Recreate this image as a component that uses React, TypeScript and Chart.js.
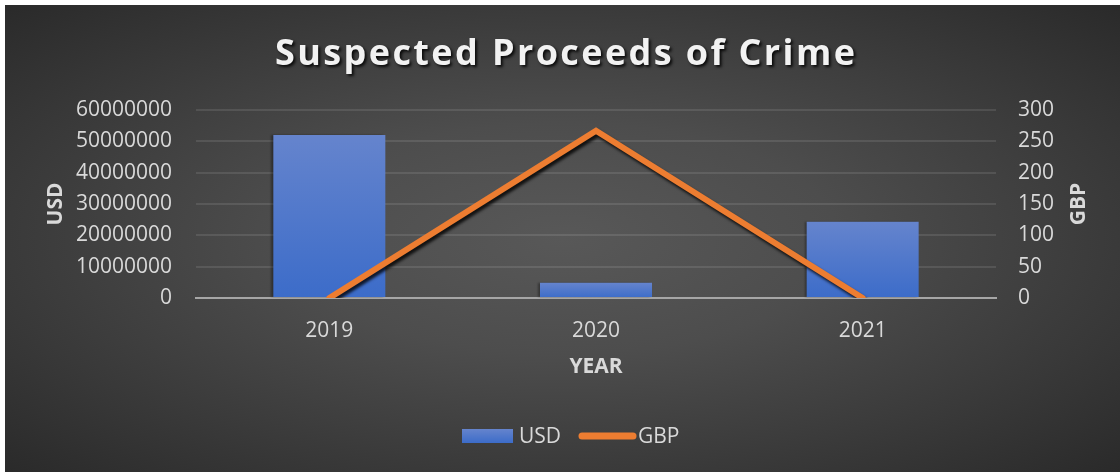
import React, { useEffect, useRef } from "react";
import { Chart, registerables } from "chart.js";

Chart.register(...registerables);

const TITLE = "Suspected Proceeds of Crime";
const categories = ["2019", "2020", "2021"];
const usdValues = [52000000, 4850000, 24300000];
const gbpValues = [0, 267, 0];
const usdTickLabels = ["0", "10000000", "20000000", "30000000", "40000000", "50000000", "60000000"];
const gbpTickLabels = ["0", "50", "100", "150", "200", "250", "300"];
const seriesNames = ["USD", "GBP"];
const axisTitles = { x: "YEAR", y: "USD", y1: "GBP" };

const W = 1115;
const H = 467;
const FONT = "'Open Sans', 'DejaVu Sans', sans-serif";
const TEXT = "#d9d9d9";
const ORANGE = "#ed7d31";

function blueGradient(ctx: CanvasRenderingContext2D, y0: number, y1: number) {
  const g = ctx.createLinearGradient(0, y0, 0, y1);
  g.addColorStop(0, "#6584cd");
  g.addColorStop(1, "#3c6cc9");
  return g;
}

const decorPlugin = {
  id: "decor",
  beforeDatasetDraw(chart: any, args: any) {
    const ctx = chart.ctx;
    ctx.save();
    if (args.meta.type === "line") {
      ctx.shadowColor = "rgba(0,0,0,0.8)";
      ctx.shadowOffsetX = 2;
      ctx.shadowOffsetY = 3;
      ctx.shadowBlur = 3;
    } else {
      ctx.shadowColor = "rgba(0,0,0,0.35)";
      ctx.shadowOffsetX = -2;
      ctx.shadowOffsetY = 0;
      ctx.shadowBlur = 2;
    }
  },
  afterDatasetDraw(chart: any) {
    chart.ctx.restore();
  },
  afterDraw(chart: any) {
    const ctx: CanvasRenderingContext2D = chart.ctx;
    const area = chart.chartArea;
    const midY = (area.top + area.bottom) / 2;

    // Title with letter spacing and shadow
    ctx.save();
    ctx.font = `bold 36px ${FONT}`;
    (ctx as any).letterSpacing = "0px";
    const w0 = ctx.measureText(TITLE).width;
    const targetW = 580;
    const sp = (targetW - w0) / (TITLE.length - 1);
    (ctx as any).letterSpacing = `${sp}px`;
    ctx.fillStyle = "#f2f2f2";
    ctx.textAlign = "left";
    ctx.textBaseline = "alphabetic";
    ctx.shadowColor = "rgba(0,0,0,0.85)";
    ctx.shadowOffsetX = 2;
    ctx.shadowOffsetY = 2;
    ctx.shadowBlur = 3;
    ctx.fillText(TITLE, 560 - targetW / 2, 60);
    ctx.restore();

    // Axis titles
    ctx.save();
    ctx.font = `bold 21px ${FONT}`;
    ctx.fillStyle = TEXT;
    ctx.textAlign = "center";
    ctx.textBaseline = "middle";
    ctx.translate(51, midY);
    ctx.rotate(-Math.PI / 2);
    ctx.fillText(axisTitles.y, 0, 0);
    ctx.restore();

    ctx.save();
    ctx.font = `bold 21px ${FONT}`;
    ctx.fillStyle = TEXT;
    ctx.textAlign = "center";
    ctx.textBaseline = "middle";
    ctx.translate(1074, midY);
    ctx.rotate(-Math.PI / 2);
    ctx.fillText(axisTitles.y1, 0, 0);
    ctx.restore();

    ctx.save();
    ctx.font = `bold 21px ${FONT}`;
    ctx.fillStyle = TEXT;
    ctx.textAlign = "center";
    ctx.textBaseline = "middle";
    ctx.fillText(axisTitles.x, (area.left + area.right) / 2, 362);
    ctx.restore();

    // Legend
    ctx.save();
    const ly = 431;
    ctx.fillStyle = blueGradient(ctx, 424, 438);
    ctx.fillRect(457, 424, 51, 14);
    ctx.font = `21px ${FONT}`;
    ctx.fillStyle = TEXT;
    ctx.textAlign = "left";
    ctx.textBaseline = "middle";
    ctx.fillText(chart.data.datasets[0].label, 514, ly + 1);
    ctx.strokeStyle = ORANGE;
    ctx.lineWidth = 7;
    ctx.lineCap = "round";
    ctx.beginPath();
    ctx.moveTo(577, ly);
    ctx.lineTo(628, ly);
    ctx.stroke();
    ctx.fillText(chart.data.datasets[1].label, 633, ly + 1);
    ctx.restore();
  },
};

export default function App() {
  const ref = useRef<HTMLCanvasElement | null>(null);

  useEffect(() => {
    document.body.style.margin = "0";
    const canvas = ref.current;
    if (!canvas) return;
    const chart = new Chart(canvas, {
      type: "bar",
      data: {
        labels: categories,
        datasets: [
          {
            type: "bar",
            label: seriesNames[0],
            data: usdValues,
            yAxisID: "y",
            order: 1,
            barPercentage: 0.42,
            categoryPercentage: 1,
            borderWidth: 0,
            backgroundColor: (c: any) => {
              const chart = c.chart;
              const { ctx, chartArea, scales } = chart;
              if (!chartArea || c.type !== "data" || !scales.y) return "#4f78ca";
              const yTop = scales.y.getPixelForValue(c.raw);
              const yBot = scales.y.getPixelForValue(0);
              return blueGradient(ctx, yTop, yBot);
            },
          } as any,
          {
            type: "line",
            label: seriesNames[1],
            data: gbpValues,
            yAxisID: "y1",
            order: 0,
            borderColor: ORANGE,
            backgroundColor: ORANGE,
            borderWidth: 6,
            borderCapStyle: "round",
            borderJoinStyle: "miter",
            pointRadius: 0,
            pointHoverRadius: 0,
            tension: 0,
            fill: false,
          } as any,
        ],
      },
      options: {
        responsive: false,
        animation: false,
        devicePixelRatio: 1,
        layout: { padding: { top: 105, left: 0, right: 0, bottom: 0 } },
        plugins: {
          legend: { display: false },
          title: { display: false },
          tooltip: { enabled: false },
        },
        scales: {
          x: {
            grid: { display: false, drawTicks: false },
            border: { display: true, color: "#a6a6a6", width: 2 },
            ticks: { color: TEXT, font: { family: FONT, size: 21 }, padding: 20 },
            afterFit: (s: any) => {
              s.height = 174;
            },
          },
          y: {
            position: "left",
            min: 0,
            max: 60000000,
            ticks: {
              stepSize: 10000000,
              color: TEXT,
              font: { family: FONT, size: 21 },
              padding: 24,
              callback: (_v: any, i: number) => usdTickLabels[i],
            },
            grid: { color: "rgba(255,255,255,0.10)", lineWidth: 2, drawTicks: false },
            border: { display: false },
            afterFit: (s: any) => {
              s.width = 191;
            },
          },
          y1: {
            position: "right",
            min: 0,
            max: 300,
            ticks: {
              stepSize: 50,
              color: TEXT,
              font: { family: FONT, size: 21 },
              padding: 22,
              callback: (_v: any, i: number) => gbpTickLabels[i],
            },
            grid: { display: false, drawTicks: false },
            border: { display: false },
            afterFit: (s: any) => {
              s.width = 124;
            },
          },
        },
      } as any,
      plugins: [decorPlugin],
    });
    return () => chart.destroy();
  }, []);

  return (
    <div style={{ position: "fixed", left: 0, top: 0, width: 1120, height: 472, background: "#ffffff" }}>
      <div
        style={{
          position: "absolute",
          left: 5,
          top: 5,
          width: W,
          height: H,
          background: "radial-gradient(ellipse at 50% 50%, #585858 0%, #4d4d4d 35%, #2a2a2a 100%)",
        }}
      >
        <canvas ref={ref} width={W} height={H} style={{ width: W, height: H, display: "block" }} />
      </div>
    </div>
  );
}
